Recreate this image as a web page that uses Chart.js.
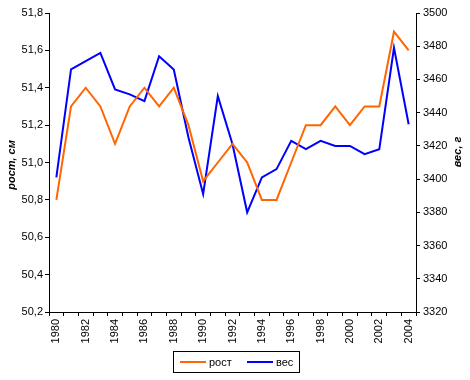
<!DOCTYPE html>
<html>
<head>
<meta charset="utf-8">
<script src="https://cdn.jsdelivr.net/npm/chart.js@4.4.1/dist/chart.umd.min.js"></script>
<style>
  body { margin: 0; background: #fff; }
  #wrap { width: 470px; height: 380px; }
</style>
</head>
<body>
<div id="wrap"><canvas id="chart" width="470" height="380"></canvas></div>
<script>
var years = ['1980', '1981', '1982', '1983', '1984', '1985', '1986', '1987', '1988', '1989',
             '1990', '1991', '1992', '1993', '1994', '1995', '1996', '1997', '1998', '1999',
             '2000', '2001', '2002', '2003', '2004'];
// рост, см (left axis)
var rost = [50.8, 51.3, 51.4, 51.3, 51.1, 51.3, 51.4, 51.3, 51.4, 51.2,
            50.9, 51.0, 51.1, 51.0, 50.8, 50.8, 51.0, 51.2, 51.2, 51.3,
            51.2, 51.3, 51.3, 51.7, 51.6];
// вес, г (right axis)
var ves = [3401, 3466, 3471, 3476, 3454, 3451, 3447, 3474, 3466, 3425,
           3391, 3450, 3421, 3380, 3401, 3406, 3423, 3418, 3423, 3420,
           3420, 3415, 3418, 3479, 3433];
var rostTicks = [50.2, 51.8, 0.2];   // min, max, step
var vesTicks = [3320, 3500, 20];
var seriesNames = ['рост', 'вес'];
var axisTitles = ['рост, см', 'вес, г'];
var colors = ['#FF6600', '#0000FF'];

Chart.defaults.font.family = '"Liberation Sans", Arial, sans-serif';
Chart.defaults.font.size = 11;
Chart.defaults.color = '#000';

// axis titles and the boxed legend, drawn like the Excel original
var extras = {
    id: 'extras',
    afterDraw: function(chart) {
        var ctx = chart.ctx;
        ctx.save();
        ctx.fillStyle = '#000';
        ctx.font = 'italic bold 11px "Liberation Sans", Arial, sans-serif';
        ctx.textAlign = 'center';
        ctx.textBaseline = 'middle';

        ctx.save();
        ctx.translate(12, 165);
        ctx.rotate(-Math.PI / 2);
        ctx.fillText(axisTitles[0], 0, 0);
        ctx.restore();

        ctx.save();
        ctx.translate(458, 152);
        ctx.rotate(-Math.PI / 2);
        ctx.fillText(axisTitles[1], 0, 0);
        ctx.restore();

        // legend
        var bx = 173.5, by = 351.5, bw = 126, bh = 21;
        ctx.strokeStyle = '#000';
        ctx.lineWidth = 1;
        ctx.strokeRect(bx, by, bw, bh);
        ctx.font = '11px "Liberation Sans", Arial, sans-serif';
        ctx.textAlign = 'left';
        var cy = by + bh / 2;
        var xs = [180, 247];
        for (var i = 0; i < 2; i++) {
            ctx.strokeStyle = colors[i];
            ctx.lineWidth = 2;
            ctx.beginPath();
            ctx.moveTo(xs[i], cy);
            ctx.lineTo(xs[i] + 26, cy);
            ctx.stroke();
            ctx.fillText(seriesNames[i], xs[i] + 29, cy + 1);
        }
        ctx.restore();
    }
};

var ctx = document.getElementById('chart').getContext('2d');
var myChart = new Chart(ctx, {
    type: 'line',
    data: {
        labels: years,
        datasets: [{
            label: seriesNames[0],
            data: rost,
            borderColor: colors[0],
            backgroundColor: colors[0],
            borderWidth: 2,
            pointRadius: 0,
            tension: 0,
            yAxisID: 'y'
        }, {
            label: seriesNames[1],
            data: ves,
            borderColor: colors[1],
            backgroundColor: colors[1],
            borderWidth: 2,
            pointRadius: 0,
            tension: 0,
            yAxisID: 'y1'
        }]
    },
    options: {
        responsive: false,
        devicePixelRatio: 1,
        animation: false,
        layout: { padding: { top: 13, left: 0, right: 0, bottom: 0 } },
        plugins: {
            legend: { display: false },
            tooltip: { enabled: false }
        },
        scales: {
            x: {
                type: 'category',
                offset: true,
                grid: { display: true, drawOnChartArea: false, offset: true, tickLength: 4, color: '#000' },
                border: { display: true, color: '#000', width: 1 },
                ticks: {
                    autoSkip: false,
                    minRotation: 90,
                    maxRotation: 90,
                    padding: 3,
                    callback: function(val, i) {
                        return i % 2 === 0 ? this.getLabelForValue(val) : '';
                    }
                },
                afterFit: function(scale) { scale.height = 68; }
            },
            y: {
                position: 'left',
                min: rostTicks[0],
                max: rostTicks[1],
                grid: { drawOnChartArea: false, tickLength: 4, color: '#000' },
                border: { display: true, color: '#000', width: 1 },
                ticks: {
                    stepSize: rostTicks[2],
                    padding: 2,
                    callback: function(v) { return v.toFixed(1).replace('.', ','); }
                },
                afterFit: function(scale) { scale.width = 49; }
            },
            y1: {
                position: 'right',
                min: vesTicks[0],
                max: vesTicks[1],
                grid: { drawOnChartArea: false, tickLength: 4, color: '#000' },
                border: { display: true, color: '#000', width: 1 },
                ticks: {
                    stepSize: vesTicks[2],
                    padding: 3,
                    callback: function(v) { return String(v); }
                },
                afterFit: function(scale) { scale.width = 54; }
            }
        }
    },
    plugins: [extras]
});
</script>
</body>
</html>
